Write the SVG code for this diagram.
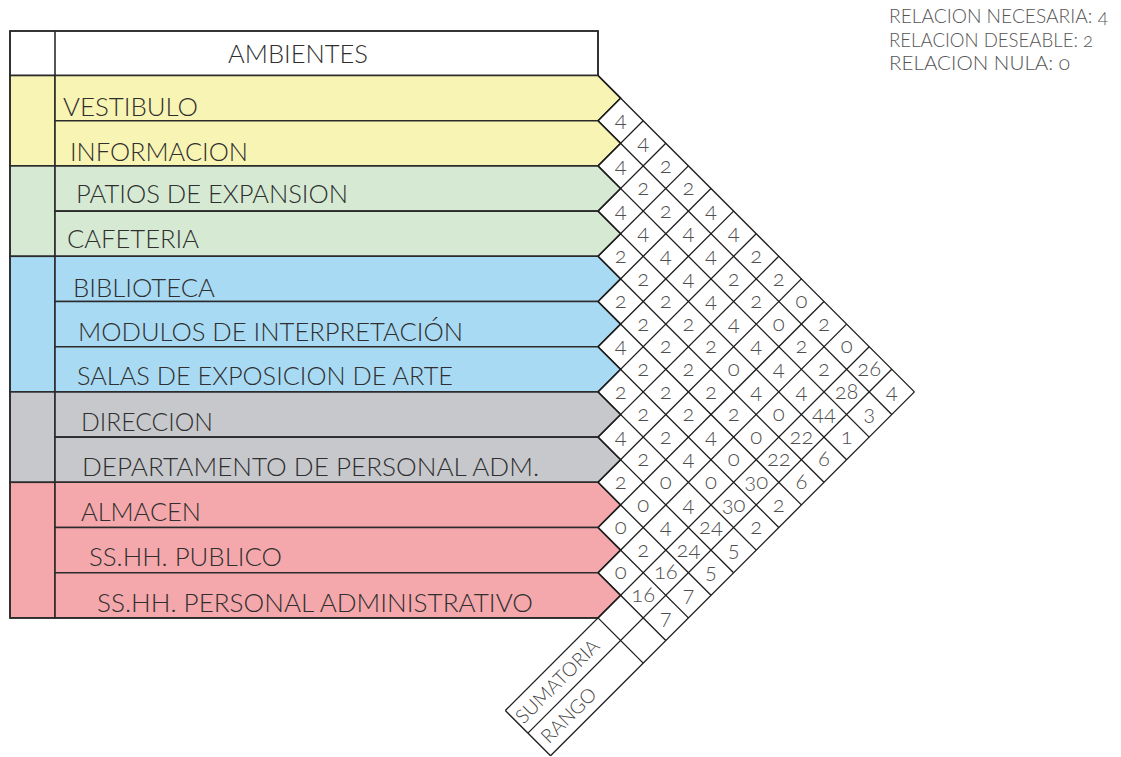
<svg xmlns="http://www.w3.org/2000/svg" width="1121" height="757" viewBox="0 0 1121 757">
<style>
.t{font-family:Lato,"Open Sans","Liberation Sans",sans-serif;font-weight:300;}
.lbl{font-size:24.5px;fill:#2f2f2f;}
.num{font-size:22px;fill:#4e4e4e;text-anchor:middle;font-variant-numeric:oldstyle-nums;}
.leg{font-size:20px;fill:#555;font-variant-numeric:oldstyle-nums;}
.rot{font-size:19.5px;fill:#444;text-anchor:middle;}
.row{stroke:#2b2b2b;stroke-width:1.6;stroke-linejoin:miter;}
.y{fill:#f8f4b4;}.g{fill:#d6ead3;}.b{fill:#a9daf3;}.k{fill:#c7c8cc;}.p{fill:#f4a8ac;}
.grid line{stroke:#1c1c1c;stroke-width:1.3;}
.frame{fill:none;stroke:#2b2b2b;stroke-width:1.6;}
</style>
<rect width="1121" height="757" fill="#ffffff"/>
<g id="legend" class="t leg">
<text x="889" y="22.7" textLength="219" lengthAdjust="spacingAndGlyphs">RELACION NECESARIA: 4</text>
<text x="889" y="46.7" textLength="204" lengthAdjust="spacingAndGlyphs">RELACION DESEABLE: 2</text>
<text x="889" y="70" textLength="181" lengthAdjust="spacingAndGlyphs">RELACION NULA: 0</text>
</g>
<g id="header">
<rect x="10" y="31" width="588" height="44.5" fill="#ffffff" class="frame"/>
<line x1="55" y1="31" x2="55" y2="75.5" stroke="#2b2b2b" stroke-width="1.6"/>
<text class="t lbl" x="228" y="63.3" textLength="140" lengthAdjust="spacingAndGlyphs">AMBIENTES</text>
</g>
<g id="groups">
<rect x="10" y="75.5" width="45" height="90.4" class="y row"/>
<rect x="10" y="165.9" width="45" height="90.4" class="g row"/>
<rect x="10" y="256.3" width="45" height="135.6" class="b row"/>
<rect x="10" y="391.9" width="45" height="90.4" class="k row"/>
<rect x="10" y="482.3" width="45" height="135.6" class="p row"/>
</g>
<g id="row-vestibulo"><polygon class="y row" points="55,75.5 598,75.5 620.6,98.1 598,120.7 55,120.7"/><text class="t lbl" x="63" y="115.7" textLength="135" lengthAdjust="spacingAndGlyphs">VESTIBULO</text></g>
<g id="row-informacion"><polygon class="y row" points="55,120.7 598,120.7 620.6,143.3 598,165.9 55,165.9"/><text class="t lbl" x="70" y="160.7" textLength="178" lengthAdjust="spacingAndGlyphs">INFORMACION</text></g>
<g id="row-patios"><polygon class="g row" points="55,165.9 598,165.9 620.6,188.5 598,211.1 55,211.1"/><text class="t lbl" x="76" y="202.7" textLength="272" lengthAdjust="spacingAndGlyphs">PATIOS DE EXPANSION</text></g>
<g id="row-cafeteria"><polygon class="g row" points="55,211.1 598,211.1 620.6,233.7 598,256.3 55,256.3"/><text class="t lbl" x="67" y="248.3" textLength="132" lengthAdjust="spacingAndGlyphs">CAFETERIA</text></g>
<g id="row-biblioteca"><polygon class="b row" points="55,256.3 598,256.3 620.6,278.9 598,301.5 55,301.5"/><text class="t lbl" x="73" y="297.3" textLength="142" lengthAdjust="spacingAndGlyphs">BIBLIOTECA</text></g>
<g id="row-modulos"><polygon class="b row" points="55,301.5 598,301.5 620.6,324.1 598,346.7 55,346.7"/><text class="t lbl" x="78" y="340.7" textLength="385" lengthAdjust="spacingAndGlyphs">MODULOS DE INTERPRETACIÓN</text></g>
<g id="row-salas"><polygon class="b row" points="55,346.7 598,346.7 620.6,369.3 598,391.9 55,391.9"/><text class="t lbl" x="77" y="385" textLength="376" lengthAdjust="spacingAndGlyphs">SALAS DE EXPOSICION DE ARTE</text></g>
<g id="row-direccion"><polygon class="k row" points="55,391.9 598,391.9 620.6,414.5 598,437.1 55,437.1"/><text class="t lbl" x="81" y="430.7" textLength="132" lengthAdjust="spacingAndGlyphs">DIRECCION</text></g>
<g id="row-departamento"><polygon class="k row" points="55,437.1 598,437.1 620.6,459.7 598,482.3 55,482.3"/><text class="t lbl" x="82" y="476" textLength="457" lengthAdjust="spacingAndGlyphs">DEPARTAMENTO DE PERSONAL ADM.</text></g>
<g id="row-almacen"><polygon class="p row" points="55,482.3 598,482.3 620.6,504.9 598,527.5 55,527.5"/><text class="t lbl" x="81" y="520.7" textLength="120" lengthAdjust="spacingAndGlyphs">ALMACEN</text></g>
<g id="row-sshh-publico"><polygon class="p row" points="55,527.5 598,527.5 620.6,550.1 598,572.7 55,572.7"/><text class="t lbl" x="89" y="566" textLength="193" lengthAdjust="spacingAndGlyphs">SS.HH. PUBLICO</text></g>
<g id="row-sshh-personal"><polygon class="p row" points="55,572.7 598,572.7 620.6,595.3 598,617.9 55,617.9"/><text class="t lbl" x="97" y="611.7" textLength="436" lengthAdjust="spacingAndGlyphs">SS.HH. PERSONAL ADMINISTRATIVO</text></g>
<path class="frame" d="M598,75.5 V31 H10 V617.9 H598"/>
<g id="connectors" class="grid">
<line x1="620.6" y1="98.1" x2="598" y2="120.7"/>
<line x1="643.2" y1="120.7" x2="598" y2="165.9"/>
<line x1="665.8" y1="143.3" x2="598" y2="211.1"/>
<line x1="688.4" y1="165.9" x2="598" y2="256.3"/>
<line x1="711" y1="188.5" x2="598" y2="301.5"/>
<line x1="733.6" y1="211.1" x2="598" y2="346.7"/>
<line x1="756.2" y1="233.7" x2="598" y2="391.9"/>
<line x1="778.8" y1="256.3" x2="598" y2="437.1"/>
<line x1="801.4" y1="278.9" x2="598" y2="482.3"/>
<line x1="824" y1="301.5" x2="598" y2="527.5"/>
<line x1="846.6" y1="324.1" x2="598" y2="572.7"/>
<line x1="869.2" y1="346.7" x2="505.34" y2="710.56"/>
<line x1="891.8" y1="369.3" x2="527.94" y2="733.16"/>
<line x1="914.4" y1="391.9" x2="550.54" y2="755.76"/>
<line x1="598" y1="75.5" x2="914.4" y2="391.9"/>
<line x1="598" y1="120.7" x2="891.8" y2="414.5"/>
<line x1="598" y1="165.9" x2="869.2" y2="437.1"/>
<line x1="598" y1="211.1" x2="846.6" y2="459.7"/>
<line x1="598" y1="256.3" x2="824" y2="482.3"/>
<line x1="598" y1="301.5" x2="801.4" y2="504.9"/>
<line x1="598" y1="346.7" x2="778.8" y2="527.5"/>
<line x1="598" y1="391.9" x2="756.2" y2="550.1"/>
<line x1="598" y1="437.1" x2="733.6" y2="572.7"/>
<line x1="598" y1="482.3" x2="711" y2="595.3"/>
<line x1="598" y1="527.5" x2="688.4" y2="617.9"/>
<line x1="598" y1="572.7" x2="665.8" y2="640.5"/>
<line x1="598" y1="617.9" x2="643.2" y2="663.1"/>
<line x1="505.34" y1="710.56" x2="550.54" y2="755.76"/>
</g>
<g id="values" class="t num" transform="translate(0,0.8)">
<text x="620.6" y="126.7">4</text><text x="643.2" y="149.3">4</text><text x="665.8" y="171.9">2</text><text x="688.4" y="194.5">2</text><text x="711" y="217.1">4</text><text x="733.6" y="239.7">4</text><text x="756.2" y="262.3">2</text><text x="778.8" y="284.9">2</text><text x="801.4" y="307.5">0</text><text x="824" y="330.1">2</text><text x="846.6" y="352.7">0</text><text x="869.2" y="375.3">26</text><text x="891.8" y="397.9">4</text>
<text x="620.6" y="171.9">4</text><text x="643.2" y="194.5">2</text><text x="665.8" y="217.1">2</text><text x="688.4" y="239.7">4</text><text x="711" y="262.3">4</text><text x="733.6" y="284.9">2</text><text x="756.2" y="307.5">2</text><text x="778.8" y="330.1">0</text><text x="801.4" y="352.7">2</text><text x="824" y="375.3">2</text><text x="846.6" y="397.9">28</text><text x="869.2" y="420.5">3</text>
<text x="620.6" y="217.1">4</text><text x="643.2" y="239.7">4</text><text x="665.8" y="262.3">4</text><text x="688.4" y="284.9">4</text><text x="711" y="307.5">4</text><text x="733.6" y="330.1">4</text><text x="756.2" y="352.7">4</text><text x="778.8" y="375.3">4</text><text x="801.4" y="397.9">4</text><text x="824" y="420.5">44</text><text x="846.6" y="443.1">1</text>
<text x="620.6" y="262.3">2</text><text x="643.2" y="284.9">2</text><text x="665.8" y="307.5">2</text><text x="688.4" y="330.1">2</text><text x="711" y="352.7">2</text><text x="733.6" y="375.3">0</text><text x="756.2" y="397.9">4</text><text x="778.8" y="420.5">0</text><text x="801.4" y="443.1">22</text><text x="824" y="465.7">6</text>
<text x="620.6" y="307.5">2</text><text x="643.2" y="330.1">2</text><text x="665.8" y="352.7">2</text><text x="688.4" y="375.3">2</text><text x="711" y="397.9">2</text><text x="733.6" y="420.5">2</text><text x="756.2" y="443.1">0</text><text x="778.8" y="465.7">22</text><text x="801.4" y="488.3">6</text>
<text x="620.6" y="352.7">4</text><text x="643.2" y="375.3">2</text><text x="665.8" y="397.9">2</text><text x="688.4" y="420.5">2</text><text x="711" y="443.1">4</text><text x="733.6" y="465.7">0</text><text x="756.2" y="488.3">30</text><text x="778.8" y="510.9">2</text>
<text x="620.6" y="397.9">2</text><text x="643.2" y="420.5">2</text><text x="665.8" y="443.1">2</text><text x="688.4" y="465.7">4</text><text x="711" y="488.3">0</text><text x="733.6" y="510.9">30</text><text x="756.2" y="533.5">2</text>
<text x="620.6" y="443.1">4</text><text x="643.2" y="465.7">2</text><text x="665.8" y="488.3">0</text><text x="688.4" y="510.9">4</text><text x="711" y="533.5">24</text><text x="733.6" y="556.1">5</text>
<text x="620.6" y="488.3">2</text><text x="643.2" y="510.9">0</text><text x="665.8" y="533.5">4</text><text x="688.4" y="556.1">24</text><text x="711" y="578.7">5</text>
<text x="620.6" y="533.5">0</text><text x="643.2" y="556.1">2</text><text x="665.8" y="578.7">16</text><text x="688.4" y="601.3">7</text>
<text x="620.6" y="578.7">0</text><text x="643.2" y="601.3">16</text><text x="665.8" y="623.9">7</text>
</g>
<g id="strip-labels" class="t rot">
<text x="557.3" y="688.2" transform="rotate(-45 557.3 681.2)">SUMATORIA</text>
<text x="568.6" y="722.1" transform="rotate(-45 568.6 715.1)">RANGO</text>
</g>
</svg>
